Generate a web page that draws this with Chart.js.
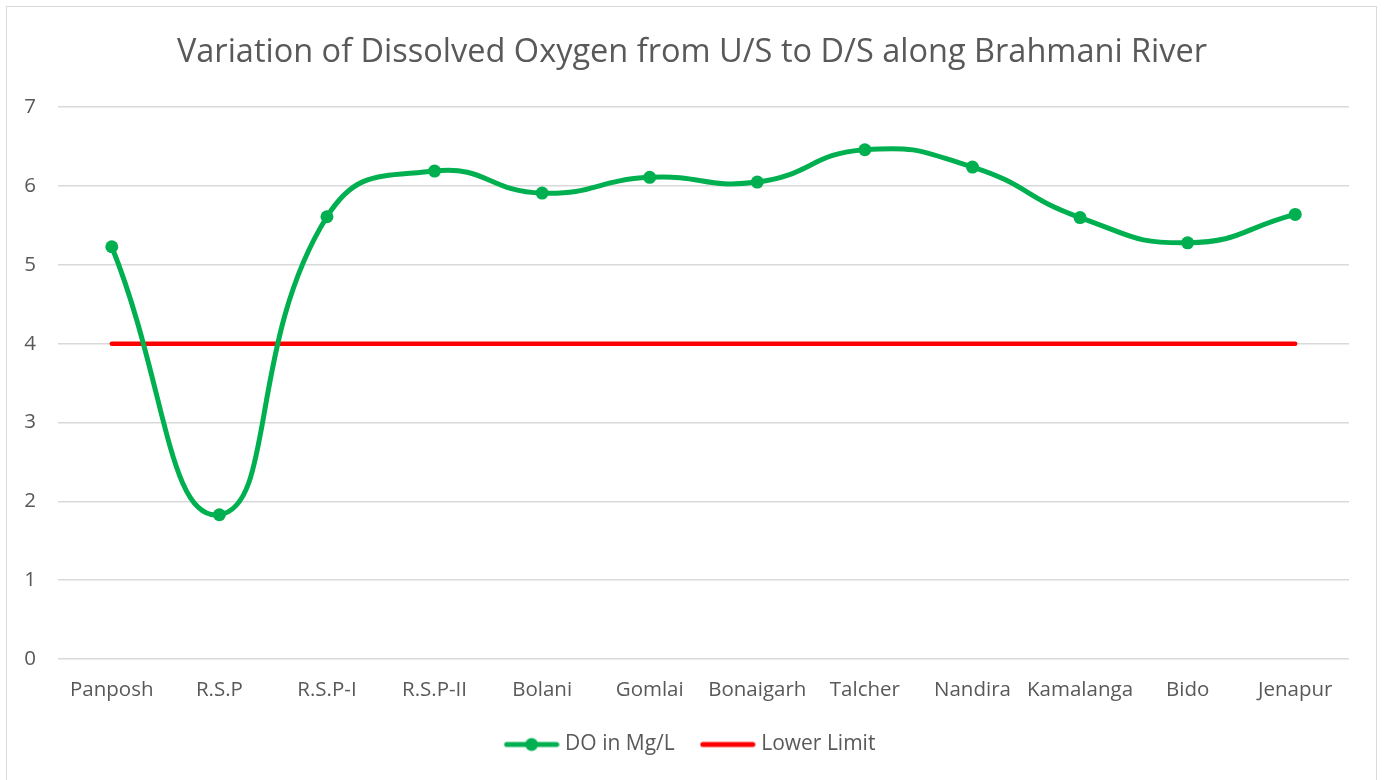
<!DOCTYPE html>
<html>
<head>
<meta charset="utf-8">
<script src="https://cdn.jsdelivr.net/npm/chart.js@4"></script>
<style>
  html, body { margin: 0; padding: 0; background: #fff; }
  #wrap { position: relative; width: 1384px; height: 780px; }
  #frame { position: absolute; left: 6px; top: 6px; width: 1371px; height: 780px; border: 1.5px solid #d9d9d9; box-sizing: border-box; }
  canvas { position: absolute; left: 0; top: 0; }
</style>
</head>
<body>
<div id="wrap">
  <div id="frame"></div>
  <canvas id="do-chart" width="1384" height="780"></canvas>
</div>
<script>
var stations = ["Panposh", "R.S.P", "R.S.P-I", "R.S.P-II", "Bolani", "Gomlai", "Bonaigarh", "Talcher", "Nandira", "Kamalanga", "Bido", "Jenapur"];
var doValues = [5.23, 1.83, 5.61, 6.19, 5.91, 6.11, 6.05, 6.46, 6.24, 5.60, 5.28, 5.64];
var lowerLimit = [4, 4, 4, 4, 4, 4, 4, 4, 4, 4, 4, 4];
var yTicks = [0, 1, 2, 3, 4, 5, 6, 7];

var GREEN = "#00b050",
  RED = "#ff0000",
  TEXT = "#595959",
  FONT = "'Open Sans', Lato, sans-serif";

function legendSwatch(color, marker) {
  var c = document.createElement("canvas");
  c.width = 56;
  c.height = 16;
  var ctx = c.getContext("2d");
  ctx.strokeStyle = color;
  ctx.lineWidth = 5;
  ctx.lineCap = "round";
  ctx.beginPath();
  ctx.moveTo(3, 8);
  ctx.lineTo(53, 8);
  ctx.stroke();
  if (marker) {
    ctx.fillStyle = color;
    ctx.beginPath();
    ctx.arc(28, 8, 6.5, 0, Math.PI * 2);
    ctx.fill();
  }
  return c;
}
var swatches = [legendSwatch(GREEN, true), legendSwatch(RED, false)];

new Chart(document.getElementById("do-chart"), {
  type: "line",
  data: {
    labels: stations,
    datasets: [
      {
        label: "DO in Mg/L",
        data: doValues,
        borderColor: GREEN,
        backgroundColor: GREEN,
        borderWidth: 5,
        pointRadius: 6.5,
        pointBorderWidth: 0,
        pointBackgroundColor: GREEN,
        tension: 0.5,
      },
      {
        label: "Lower Limit",
        data: lowerLimit,
        borderColor: RED,
        backgroundColor: RED,
        borderWidth: 4.5,
        borderCapStyle: "round",
        pointRadius: 0,
        tension: 0,
      },
    ],
  },
  options: {
    responsive: false,
    animation: false,
    layout: { padding: { left: 0, right: 0, top: 0, bottom: 15 } },
    scales: {
      x: {
        offset: true,
        grid: { display: false, drawTicks: false },
        border: { display: false },
        afterFit: function (s) { s.height = 45; },
        ticks: { color: TEXT, font: { family: FONT, size: 20.5 }, padding: 19, maxRotation: 0, autoSkip: false },
      },
      y: {
        min: 0,
        max: 7,
        afterBuildTicks: function (s) {
          s.ticks = yTicks.map(function (v) { return { value: v }; });
        },
        afterFit: function (s) { s.width = 58; },
        grid: { color: "#d9d9d9", lineWidth: 1.5, drawTicks: false },
        border: { display: false },
        ticks: { color: TEXT, font: { family: FONT, size: 20.5 }, padding: 22 },
      },
      // empty right-hand spacer so the title and legend centre on the whole canvas
      spacer: {
        type: "linear",
        position: "right",
        display: true,
        grid: { display: false, drawTicks: false },
        border: { display: false },
        ticks: { display: false },
        afterFit: function (s) { s.width = 35; },
      },
    },
    plugins: {
      title: {
        display: true,
        text: "Variation of Dissolved Oxygen from U/S to D/S along Brahmani River",
        color: TEXT,
        font: { family: FONT, size: 32.5, weight: "normal" },
        padding: { top: 33, bottom: 35.2 },
      },
      legend: {
        position: "bottom",
        labels: {
          color: TEXT,
          font: { family: FONT, size: 21 },
          usePointStyle: true,
          pointStyleWidth: 46,
          padding: 30,
          generateLabels: function (chart) {
            var items = Chart.defaults.plugins.legend.labels.generateLabels(chart);
            items.forEach(function (it, i) { it.pointStyle = swatches[i]; });
            return items;
          },
        },
      },
      tooltip: { enabled: false },
    },
  },
});
</script>
</body>
</html>
